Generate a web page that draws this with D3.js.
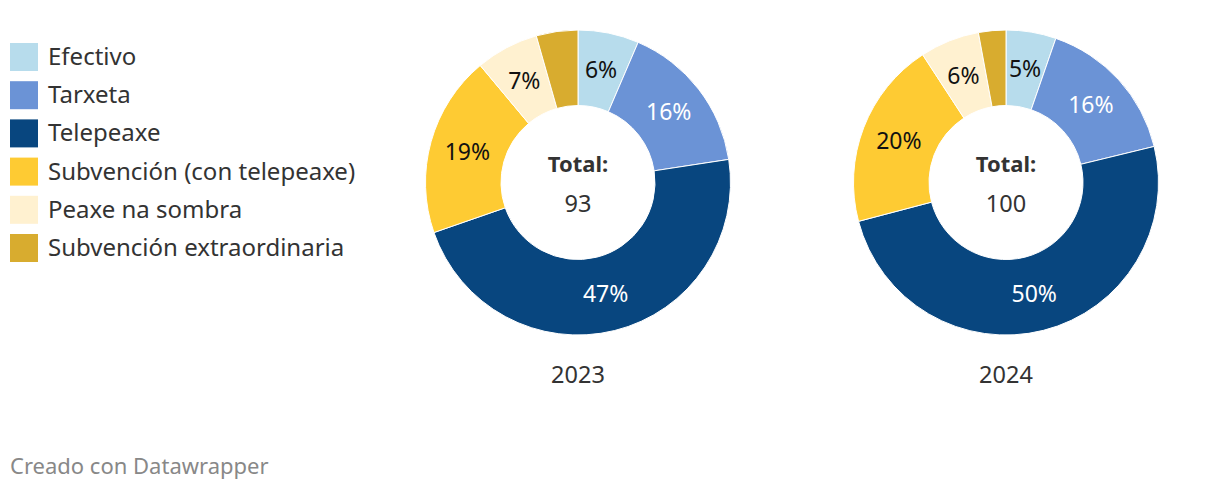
<!DOCTYPE html>
<html><head><meta charset="utf-8">
<script src="https://cdn.jsdelivr.net/npm/d3@7"></script>
<style>
body{margin:0;background:#fff;font-family:"Noto Sans","Open Sans",sans-serif;}
svg text{font-family:"Noto Sans","Open Sans",sans-serif;}
</style></head><body>
<svg id="c" width="1220" height="490"></svg>
<script>
const categories = ["Efectivo","Tarxeta","Telepeaxe","Subvención (con telepeaxe)","Peaxe na sombra","Subvención extraordinaria"];
const colors = ["#b7dcec","#6b93d6","#08467f","#fecb33","#fff1d0","#d8ac2f"];
const labelColors = ["#111111","#ffffff","#ffffff","#111111","#111111","#111111"];
const years = ["2023","2024"];
const values2023 = [6.0, 15.0, 43.8, 17.9, 6.2, 4.1];
const values2024 = [5.3, 15.9, 49.7, 19.9, 6.3, 2.9];
const totals = ["93","100"];
const showLabel = [true,true,true,true,true,false];

const svg = d3.select("#c");

// legend
const leg = svg.append("g");
categories.forEach((c,i)=>{
  const y = 43 + i*38.2;
  leg.append("rect").attr("x",10).attr("y",y).attr("width",28).attr("height",28).attr("fill",colors[i]);
  leg.append("text").attr("x",48).attr("y",y+22).attr("font-size",24).attr("fill","#333").text(c);
});

const datasets = [values2023, values2024];
const centers = [578, 1006];
const cy = 182.5;
const rOut = 152.5, rIn = 77;
const pie = d3.pie().sort(null).value(d=>d);
const arc = d3.arc().innerRadius(rIn).outerRadius(rOut);

datasets.forEach((vals,k)=>{
  const g = svg.append("g").attr("transform",`translate(${centers[k]},${cy})`);
  const total = d3.sum(vals);
  const arcs = pie(vals);
  g.selectAll("path").data(arcs).join("path")
    .attr("d",arc).attr("fill",(d,i)=>colors[i]).attr("stroke","#fff").attr("stroke-width",1);
  g.selectAll("text.lbl").data(arcs).join("text").attr("class","lbl")
    .filter((d,i)=>showLabel[i])
    .attr("transform",d=>`translate(${arc.centroid(d)})`)
    .attr("text-anchor","middle").attr("dy","0.35em")
    .attr("font-size",23).attr("fill",(d,i)=>labelColors[i])
    .text(d=>Math.round(d.value/total*100)+"%");
  g.append("text").attr("text-anchor","middle").attr("y",-11).attr("font-size",22).attr("font-weight","bold").attr("fill","#333").text("Total:");
  g.append("text").attr("text-anchor","middle").attr("y",29).attr("font-size",23.5).attr("fill","#333").text(totals[k]);
  g.append("text").attr("text-anchor","middle").attr("y",382.5-cy).attr("font-size",23.5).attr("fill","#333").text(years[k]);
});

svg.append("text").attr("x",10).attr("y",474).attr("font-size",22).attr("fill","#888").text("Creado con Datawrapper");
</script>
</body></html>
